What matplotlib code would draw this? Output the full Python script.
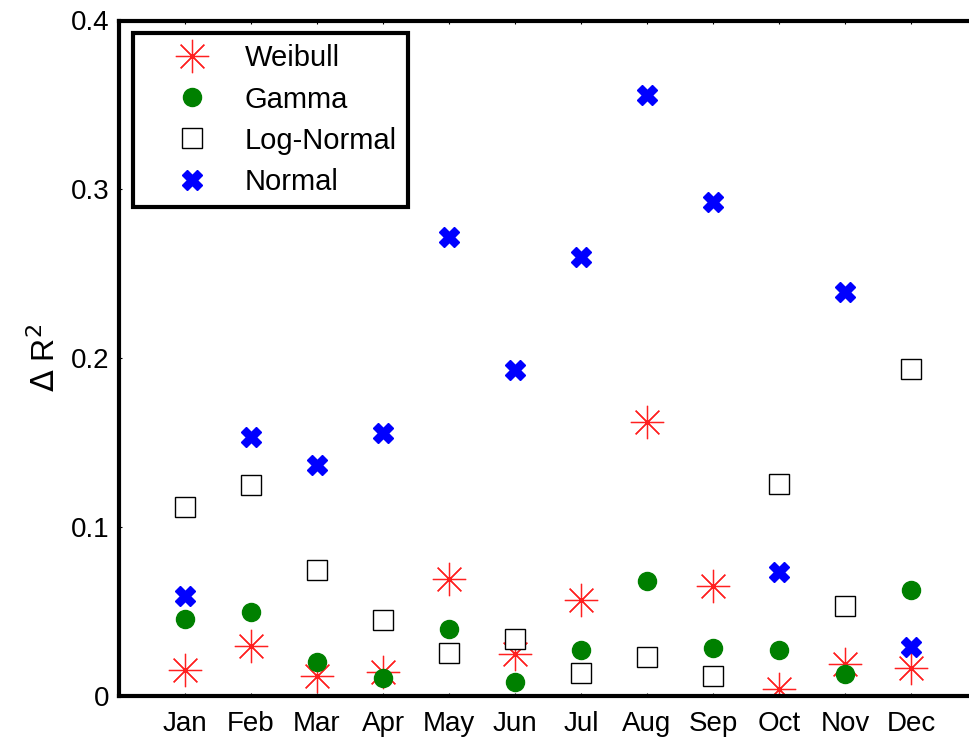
import matplotlib.pyplot as plt

months = ["Jan", "Feb", "Mar", "Apr", "May", "Jun", "Jul", "Aug", "Sep", "Oct", "Nov", "Dec"]
weibull = [0.0154, 0.0295, 0.0118, 0.0142, 0.069, 0.0248, 0.0567, 0.162, 0.065, 0.004, 0.0189, 0.0165]
gamma = [0.0455, 0.050, 0.020, 0.0106, 0.0396, 0.0083, 0.0272, 0.068, 0.0284, 0.0272, 0.013, 0.063]
lognormal = [0.1117, 0.1247, 0.0744, 0.0449, 0.0254, 0.0337, 0.0136, 0.023, 0.0118, 0.1258, 0.0532, 0.1938]
normal = [0.059, 0.1536, 0.137, 0.156, 0.2718, 0.1932, 0.26, 0.3557, 0.2925, 0.0733, 0.2393, 0.029]
yticks = [0, 0.1, 0.2, 0.3, 0.4]
ytick_labels = ["0", "0.1", "0.2", "0.3", "0.4"]

plt.rcParams['font.family'] = ['Liberation Sans', 'DejaVu Sans']

fig = plt.figure(figsize=(9.69, 7.37), dpi=100)
ax = fig.add_axes([119 / 969, 41 / 737, 858 / 969, 675.5 / 737])

x = list(range(1, len(months) + 1))

ax.plot(x, weibull, linestyle='none', marker=(8, 2, 0), markersize=24,
        markeredgewidth=0.9, color='#ff2020', label='Weibull')
ax.plot(x, gamma, linestyle='none', marker='o', markersize=13,
        color='green', markeredgecolor='green', label='Gamma')
ax.plot(x, lognormal, linestyle='none', marker='s', markersize=15,
        markerfacecolor='white', markeredgecolor='black', markeredgewidth=1.0,
        label='Log-Normal')
ax.plot(x, normal, linestyle='none', marker='X', markersize=15,
        color='blue', markeredgecolor='blue', label='Normal')

ax.set_xlim(0, 13)
ax.set_ylim(0, 0.4)
ax.set_xticks(x)
ax.set_xticklabels(months, fontsize=20)
ax.set_yticks(yticks)
ax.set_yticklabels(ytick_labels, fontsize=20)
ax.tick_params(direction='in', length=2, width=0.8, top=True, right=False)
ax.tick_params(axis='y', pad=7)
ax.tick_params(axis='x', pad=11)

for side in ['left', 'bottom', 'top']:
    ax.spines[side].set_linewidth(3)
ax.spines['right'].set_visible(False)

ax.set_ylabel(r'$\Delta$ R$^2$', fontsize=23, labelpad=6)

leg = ax.legend(loc='upper left', bbox_to_anchor=(0.0165, 0.981), fontsize=21,
                frameon=True, fancybox=False, framealpha=1, borderpad=0.38,
                labelspacing=0.45, handletextpad=0.15, handlelength=3.3,
                borderaxespad=0)
leg.get_frame().set_edgecolor('black')
leg.get_frame().set_linewidth(3)

fig.savefig('out.png', dpi=100)
